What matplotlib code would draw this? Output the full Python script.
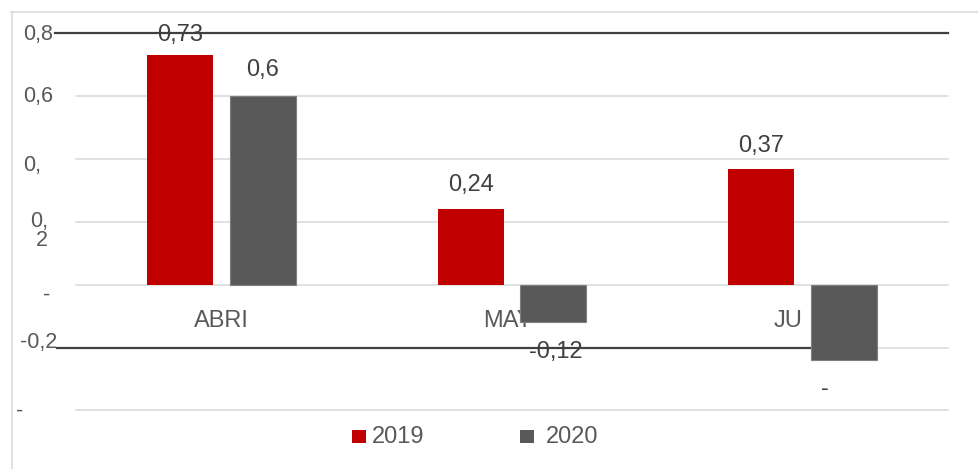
import matplotlib
matplotlib.use('Agg')
import matplotlib.pyplot as plt
from matplotlib.patches import Rectangle
from matplotlib.lines import Line2D
from matplotlib.transforms import blended_transform_factory

# ============================================
# Data
# ============================================
categories = ['ABRI', 'MAY', 'JU']          # labels are cut off in the original
series_names = ['2019', '2020']
values_2019 = [0.73, 0.24, 0.37]
values_2020 = [0.60, -0.12, -0.24]
labels_2019 = ['0,73', '0,24', '0,37']
labels_2020 = ['0,6', '-0,12', '-']          # last label is cut off in the original
yticks = [0.8, 0.6, 0.4, 0.2, 0.0, -0.2, -0.4]
ytick_labels = ['0,8', '0,6', '0,', '0,\n2', '-', '-0,2', '-']

# ============================================
# Style / layout
# ============================================
RED = '#C00000'
GRAY = '#595959'
TEXT = '#595959'
DARK = '#404040'
GRID = '#D9D9D9'
W, H = 979, 469

plt.rcParams['font.family'] = ['Liberation Sans', 'DejaVu Sans']

# pixel offsets for the odd, clipped label placement of the original
label_dx_2019 = [0, 0, 0]
label_dy_2019 = [14, 18, 17]
label_dx_2020 = [0, 3, -19]
label_dy_2020 = [20, -36, -35]
cat_dx = [0, -4, -15]
# (ha, x pixel in figure, dy from tick in pixels)
ytick_pos = [('left', 23, -1), ('left', 23, 0), ('left', 23, -6),
             ('right', 48, -9), ('right', 50, -10), ('right', 57, 5),
             ('right', 23, -1)]


def fpx(x, y):
    '''pixel (from top-left) -> figure fraction'''
    return x / W, 1 - y / H


fig = plt.figure(figsize=(W / 100, H / 100), dpi=100)
ax = fig.add_axes([76 / W, 1 - 410.3 / H, 872 / W, 376.8 / H])
ax.set_xlim(-0.5, 2.5)
ax.set_ylim(-0.4, 0.8)
for s in ax.spines.values():
    s.set_visible(False)
ax.set_yticks(yticks)
ax.set_xticks([])
ax.tick_params(left=False, labelleft=False)
ax.yaxis.grid(True, color=GRID, linewidth=1.1)
for gl in ax.get_ygridlines():
    gl.set_clip_on(False)
ax.set_axisbelow(True)

x = list(range(len(categories)))
off, bw = 0.142, 0.227
x19 = [i - off for i in x]
x20 = [i + off for i in x]
ax.bar(x19, values_2019, width=bw, color=RED, zorder=3)
ax.bar(x20, values_2020, width=bw, color=GRAY, edgecolor='#7F7F7F',
       linewidth=0.8, zorder=3)

# value labels
for xi, v, lab, dx, dy in zip(x19, values_2019, labels_2019, label_dx_2019, label_dy_2019):
    ax.annotate(lab, xy=(xi, v), xytext=(dx, dy), textcoords='offset pixels',
                ha='center', va='baseline', fontsize=17, color=DARK, zorder=5)
for xi, v, lab, dx, dy in zip(x20, values_2020, labels_2020, label_dx_2020, label_dy_2020):
    ax.annotate(lab, xy=(xi, v), xytext=(dx, dy), textcoords='offset pixels',
                ha='center', va='baseline', fontsize=17, color=DARK, zorder=5)

# category labels sit under the zero line, partly hidden by bars
for xi, cat, dx in zip(x, categories, cat_dx):
    ax.annotate(cat, xy=(xi, 0), xytext=(dx, -42), textcoords='offset pixels',
                ha='center', va='baseline', fontsize=17, color=TEXT, zorder=2)

# y tick labels
trans = blended_transform_factory(ax.transAxes, ax.transData)
for t, lab, (ha, xp, dy) in zip(yticks, ytick_labels, ytick_pos):
    ax.annotate(lab, xy=(0, t), xycoords=trans, xytext=(xp - 76, dy),
                textcoords='offset pixels', ha=ha, va='center',
                multialignment='right', linespacing=0.85,
                fontsize=15.5, color=TEXT, annotation_clip=False)

# dark horizontal lines at 0.8 and -0.2
ax.plot([(55 - 76) / 872, 1.0], [0.8, 0.8], transform=trans, color=DARK,
        linewidth=1.6, clip_on=False, zorder=4)
x_end = (x20[2] + 0.5) / 3
ax.plot([(57 - 76) / 872, x_end], [-0.2, -0.2], transform=trans, color=DARK,
        linewidth=1.6, clip_on=False, zorder=2.7)

# legend drawn by hand
for name, color, sq_x, tx_x in zip(series_names, [RED, GRAY], [352, 520], [372, 546]):
    x0, y0 = fpx(sq_x, 443)
    fig.add_artist(Rectangle((x0, y0), 14 / W, 13 / H, transform=fig.transFigure,
                             facecolor=color, edgecolor='none'))
    tx, ty = fpx(tx_x, 437)
    fig.text(tx, ty, name, ha='left', va='center', fontsize=17, color=TEXT)

# chart area frame (only top/left visible)
fig.add_artist(Line2D([11.5 / W, 11.5 / W], [1 - 12 / H, 0], transform=fig.transFigure,
                      color=GRID, linewidth=1.1))
fig.add_artist(Line2D([11 / W, 1], [1 - 12.5 / H, 1 - 12.5 / H], transform=fig.transFigure,
                      color=GRID, linewidth=1.1))

fig.savefig('out.png', dpi=100)
